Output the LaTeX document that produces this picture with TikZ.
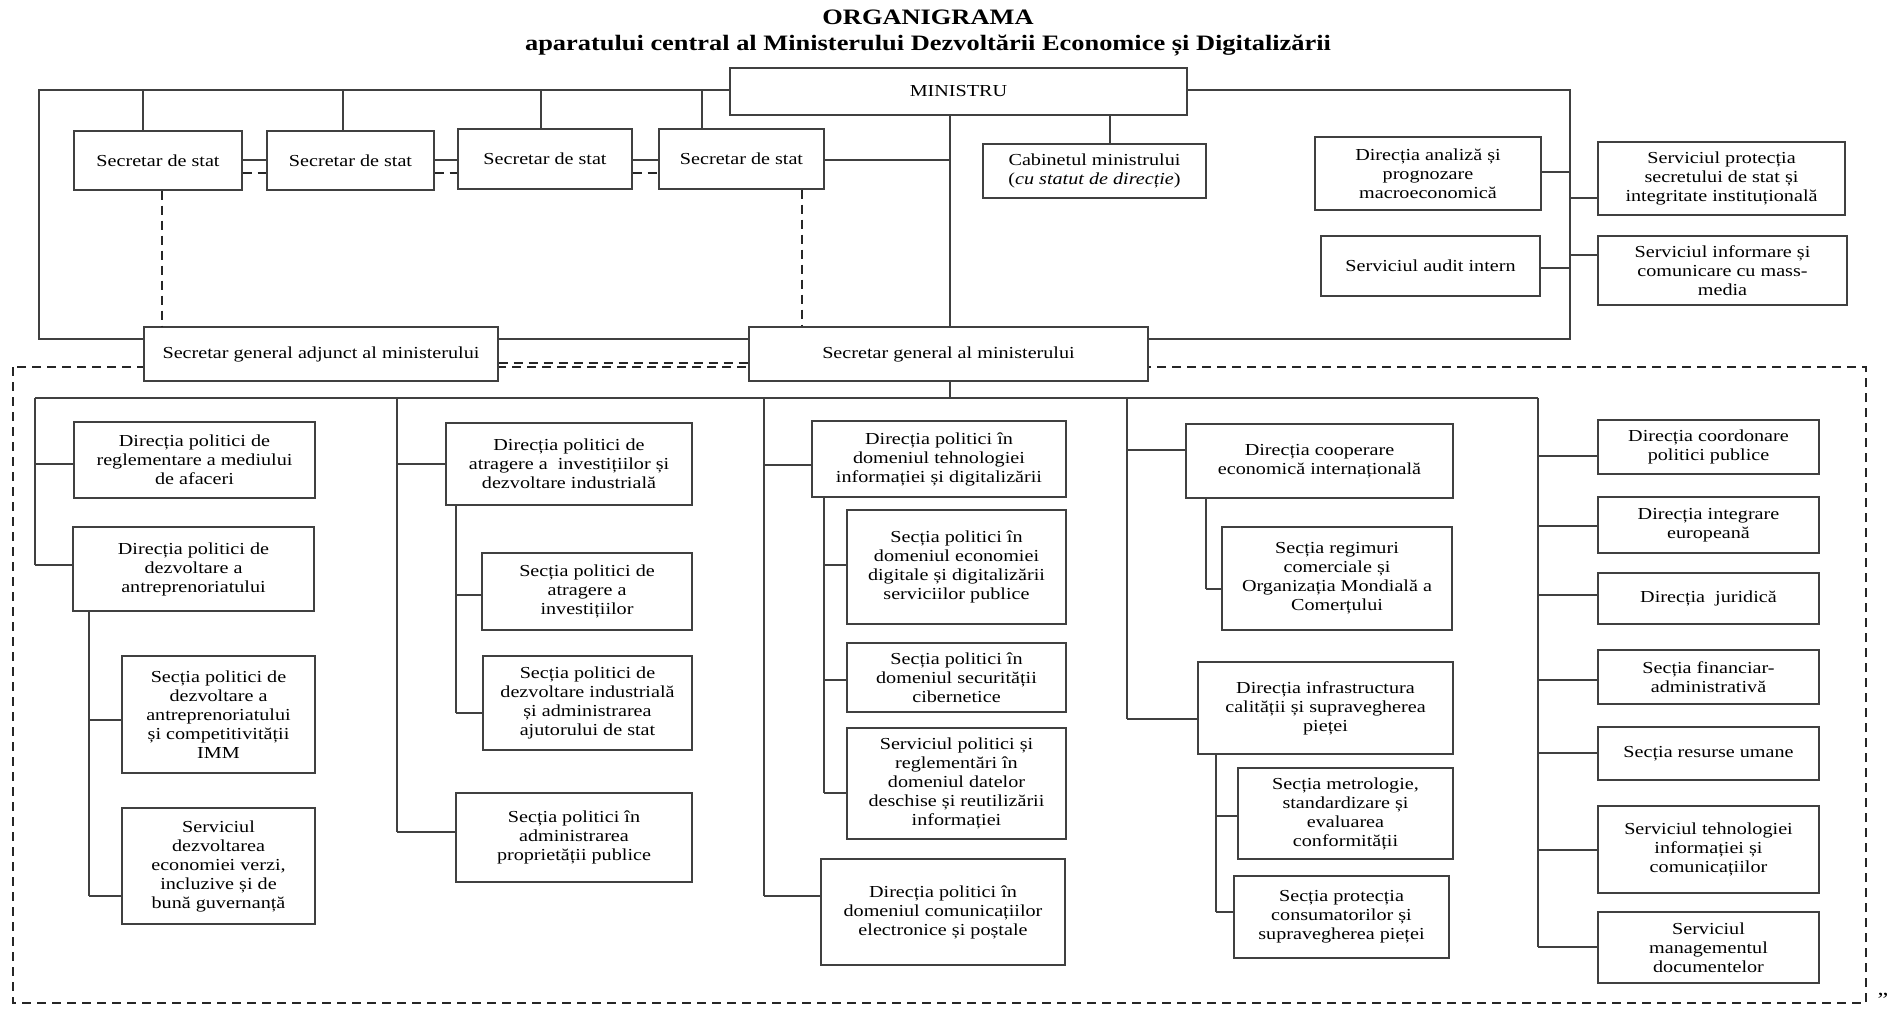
\documentclass[tikz,border=0pt]{standalone}
\usepackage{fontspec}
\setmainfont{Liberation Serif}
\newfontfamily\bxfont[FakeStretch=1.2]{Liberation Serif}
\newcommand\Bx[6]{\node[bx,minimum width=#4pt,minimum height=#5pt] (#1) at (#2,#3) {#6};}
\newcommand\Cn[3]{\draw[ln] (#1,#2) -- (#3.west |- 0,#2);}
\begin{document}
\begin{tikzpicture}[x=1pt,y=-1pt,
  ln/.style={line width=1.2pt, draw=black!75},
  dsh/.style={line width=2.2pt, draw=black!85, dash pattern=on 9pt off 6pt},
  bx/.style={draw=black!75, line width=1.2pt, fill=white, align=center, inner sep=0pt,
    font=\bxfont\fontsize{16.8}{19}\selectfont},
  ttl/.style={font=\bxfont\fontsize{22}{26}\selectfont\bfseries, inner sep=0pt}]
\useasboundingbox (0,0) rectangle (1896,1016);
% title
\node[ttl] (t1) at (928,17) {ORGANIGRAMA};
\node[ttl] (t2) at (928,46) {aparatului central al Ministerului Dezvoltării Economice și Digitalizării};
% background frames
\draw[ln] (39,90) rectangle (1570,339);
\draw[dsh] (13,367) rectangle (1866,1003);
% top boxes
\Bx{min}{958.5}{91.5}{457}{47}{MINISTRU}
\Bx{ss1}{158}{160.5}{168}{59}{Secretar de stat}
\Bx{ss2}{350.5}{160.5}{167}{59}{Secretar de stat}
\Bx{ss3}{545}{159}{174}{60}{Secretar de stat}
\Bx{ss4}{741.5}{159}{165}{60}{Secretar de stat}
\Bx{cab}{1094.5}{171}{223}{54}{Cabinetul ministrului\\(\textit{cu statut de direcție})}
\Bx{dan}{1428}{173.5}{226}{73}{Direcția analiză și\\prognozare\\macroeconomică}
\Bx{aud}{1430.5}{266}{219}{60}{Serviciul audit intern}
\Bx{spr}{1721.5}{178.5}{247}{73}{Serviciul protecția\\secretului de stat și\\integritate instituțională}
\Bx{sim}{1722.5}{270.5}{249}{69}{Serviciul informare și\\comunicare cu mass-\\media}
\Bx{sga}{321}{354}{354}{54}{Secretar general adjunct al ministerului}
\Bx{sg}{948.5}{354}{399}{54}{Secretar general al ministerului}
% column 1
\Bx{c1a}{194.5}{460}{241}{76}{Direcția politici de\\reglementare a mediului\\de afaceri}
\Bx{c1b}{193.5}{569}{241}{84}{Direcția politici de\\dezvoltare a\\antreprenoriatului}
\Bx{c1c}{218.5}{714.5}{193}{117}{Secția politici de\\dezvoltare a\\antreprenoriatului\\și competitivității\\IMM}
\Bx{c1d}{218.5}{866}{193}{116}{Serviciul\\dezvoltarea\\economiei verzi,\\incluzive și de\\bună guvernanță}
% column 2
\Bx{c2a}{569}{464}{246}{82}{Direcția politici de\\atragere a \ investițiilor și\\dezvoltare industrială}
\Bx{c2b}{587}{591.5}{210}{77}{Secția politici de\\atragere a\\investițiilor}
\Bx{c2c}{587.5}{703}{209}{94}{Secția politici de\\dezvoltare industrială\\și administrarea\\ajutorului de stat}
\Bx{c2d}{574}{837.5}{236}{89}{Secția politici în\\administrarea\\proprietății publice}
% column 3
\Bx{c3a}{939}{459}{254}{76}{Direcția politici în\\domeniul tehnologiei\\informației și digitalizării}
\Bx{c3b}{956.5}{567}{219}{114}{Secția politici în\\domeniul economiei\\digitale și digitalizării\\serviciilor publice}
\Bx{c3c}{956.5}{677.5}{219}{69}{Secția politici în\\domeniul securității\\cibernetice}
\Bx{c3d}{956.5}{783.5}{219}{111}{Serviciul politici și\\reglementări în\\domeniul datelor\\deschise și reutilizării\\informației}
\Bx{c3e}{943}{912}{244}{106}{Direcția politici în\\domeniul comunicațiilor\\electronice și poștale}
% column 4
\Bx{c4a}{1319.5}{461}{267}{74}{Direcția cooperare\\economică internațională}
\Bx{c4b}{1337}{578.5}{230}{103}{Secția regimuri\\comerciale și\\Organizația Mondială a\\Comerțului}
\Bx{c4c}{1325.5}{708}{255}{92}{Direcția infrastructura\\calității și supravegherea\\pieței}
\Bx{c4d}{1345.5}{813.5}{215}{91}{Secția metrologie,\\standardizare și\\evaluarea\\conformității}
\Bx{c4e}{1341.5}{917}{215}{82}{Secția protecția\\consumatorilor și\\supravegherea pieței}
% column 5
\Bx{c5a}{1708.5}{447}{221}{54}{Direcția coordonare\\politici publice}
\Bx{c5b}{1708.5}{525}{221}{56}{Direcția integrare\\europeană}
\Bx{c5c}{1708.5}{598.5}{221}{51}{Direcția \ juridică}
\Bx{c5d}{1708.5}{677}{221}{54}{Secția financiar-\\administrativă}
\Bx{c5e}{1708.5}{753.5}{221}{53}{Secția resurse umane}
\Bx{c5f}{1708.5}{849.5}{221}{87}{Serviciul tehnologiei\\informației și\\comunicațiilor}
\Bx{c5g}{1708.5}{947.5}{221}{71}{Serviciul\\managementul\\documentelor}
\node[font=\bxfont\fontsize{20}{22}\selectfont, anchor=north, inner sep=0pt] (q) at (1883,993) {”};
% top connectors
\foreach \x/\n in {143/ss1,343/ss2,541/ss3,702/ss4} \draw[ln] (\x,90) -- (\n.north -| \x,0);
\draw[ln] (ss1.east |- 0,160) -- (ss2.west |- 0,160);
\draw[ln] (ss2.east |- 0,160) -- (ss3.west |- 0,160);
\draw[ln] (ss3.east |- 0,160) -- (ss4.west |- 0,160);
\draw[ln] (ss4.east |- 0,160) -- (950,160);
\draw[dsh] (ss1.east |- 0,173) -- (ss2.west |- 0,173);
\draw[dsh] (ss2.east |- 0,173) -- (ss3.west |- 0,173);
\draw[dsh] (ss3.east |- 0,173) -- (ss4.west |- 0,173);
\draw[ln] (min.south -| 950,0) -- (sg.north -| 950,0);
\draw[ln] (min.south -| 1110,0) -- (cab.north -| 1110,0);
\draw[ln] (dan.east |- 0,172) -- (1570,172);
\draw[ln] (aud.east |- 0,268) -- (1570,268);
\draw[ln] (spr.west |- 0,198) -- (1570,198);
\draw[ln] (sim.west |- 0,255) -- (1570,255);
\draw[dsh] (ss1.south -| 162,0) -- (sga.north -| 162,0);
\draw[dsh] (ss4.south -| 802,0) -- (sg.north -| 802,0);
\draw[dsh] (sga.east |- 0,363) -- (sg.west |- 0,363);
% lower bus
\draw[ln] (sg.south -| 950,0) -- (950,398);
\draw[ln] (35,398) -- (1538,398);
\draw[ln] (35,398) -- (35,565);
\draw[ln] (397,398) -- (397,832);
\draw[ln] (764,398) -- (764,896);
\draw[ln] (1127,398) -- (1127,719);
\draw[ln] (1538,398) -- (1538,947);
% column 1
\Cn{35}{464}{c1a}
\Cn{35}{565}{c1b}
\draw[ln] (c1b.south -| 89,0) -- (89,896);
\Cn{89}{720}{c1c}
\Cn{89}{896}{c1d}
% column 2
\Cn{397}{464}{c2a}
\draw[ln] (c2a.south -| 456,0) -- (456,713);
\Cn{456}{595}{c2b}
\Cn{456}{713}{c2c}
\Cn{397}{832}{c2d}
% column 3
\Cn{764}{465}{c3a}
\draw[ln] (c3a.south -| 824,0) -- (824,793);
\Cn{824}{565}{c3b}
\Cn{824}{680}{c3c}
\Cn{824}{793}{c3d}
\Cn{764}{896}{c3e}
% column 4
\Cn{1127}{450}{c4a}
\draw[ln] (c4a.south -| 1206,0) -- (1206,589);
\Cn{1206}{589}{c4b}
\Cn{1127}{719}{c4c}
\draw[ln] (c4c.south -| 1216,0) -- (1216,912);
\Cn{1216}{816}{c4d}
\Cn{1216}{912}{c4e}
% column 5
\Cn{1538}{456}{c5a}
\Cn{1538}{526}{c5b}
\Cn{1538}{595}{c5c}
\Cn{1538}{680}{c5d}
\Cn{1538}{753}{c5e}
\Cn{1538}{850}{c5f}
\Cn{1538}{947}{c5g}
\end{tikzpicture}
\end{document}
